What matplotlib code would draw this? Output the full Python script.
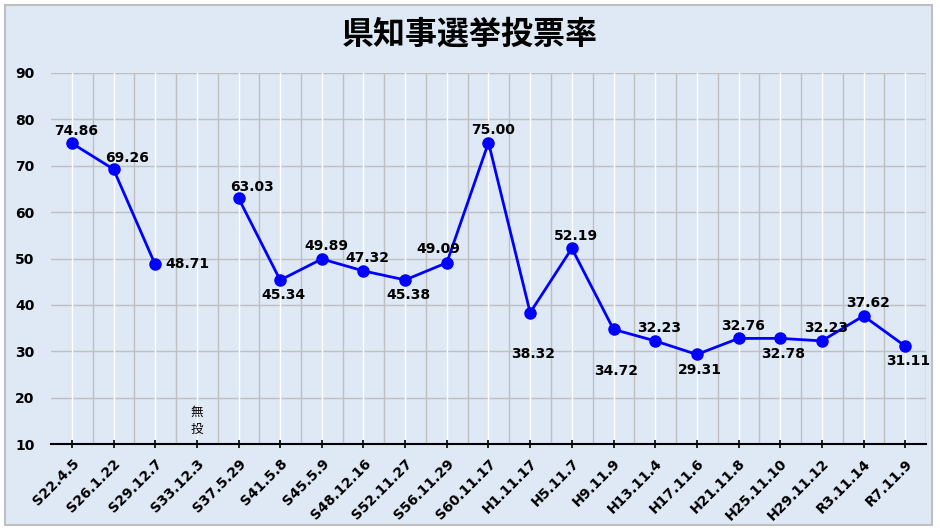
import matplotlib
matplotlib.use("Agg")
import matplotlib.pyplot as plt
import numpy as np
from matplotlib.patches import Rectangle

plt.rcParams['font.family'] = ['DejaVu Sans', 'Noto Sans CJK JP']

categories = ["S22.4.5", "S26.1.22", "S29.12.7", "S33.12.3", "S37.5.29", "S41.5.8",
              "S45.5.9", "S48.12.16", "S52.11.27", "S56.11.29", "S60.11.17", "H1.11.17",
              "H5.11.7", "H9.11.9", "H13.11.4", "H17.11.6", "H21.11.8", "H25.11.10",
              "H29.11.12", "R3.11.14", "R7.11.9"]
turnout = [74.86, 69.26, 48.71, None, 63.03, 45.34, 49.89, 47.32, 45.38, 49.09, 75.00,
           38.32, 52.19, 34.72, 32.23, 29.31, 32.76, 32.78, 32.23, 37.62, 31.11]
# label placement: 'a' above, 'b' below, 'bb' far below, 'r' right, 'ar' above-right, 'al' above-left
label_pos = ['a', 'ar', 'r', None, 'ar', 'b', 'a', 'a', 'b', 'al', 'a',
             'bb', 'a', 'bb', 'a', 'b', 'a', 'b', 'a', 'a', 'b']
yticks = [10, 20, 30, 40, 50, 60, 70, 80, 90]
title = "県知事選挙投票率"
no_vote_text = "無\n投"

bg = '#DEE9F5'
fig = plt.figure(figsize=(9.4, 5.31), dpi=100)
fig.patch.set_facecolor('white')
fig.patches.append(Rectangle((5/940, 6/531), 927/940, 520/531, transform=fig.transFigure,
                             facecolor=bg, edgecolor='#BFBFBF', linewidth=1.5, zorder=-1))

ax = fig.add_axes([51/940, 1 - 444/531, (926-51)/940, (444-73)/531])
ax.set_facecolor(bg)
x = np.arange(len(categories))
y = np.array([np.nan if v is None else v for v in turnout], dtype=float)

ax.set_xlim(-0.5, len(categories) - 0.5)
ax.set_ylim(10, 90)

# grid
for yy in yticks[1:]:
    ax.axhline(yy, color='#BFBFBF', lw=1.0, zorder=1)
for xx in x:
    ax.axvline(xx, color='white', lw=1.0, zorder=1)
for xx in x[:-1] + 0.5:
    ax.axvline(xx, color='#BFBFBF', lw=1.0, zorder=1)
ax.axvline(len(categories) - 0.5, color='#BFBFBF', lw=1.0, zorder=1)

ax.plot(x, y, color='#0000FF', lw=2, marker='o', markersize=8, zorder=3)

offsets = {'a': (3, 4, 'center', 'bottom'), 'b': (2, -6, 'center', 'top'),
           'bb': (2, -25, 'center', 'top'),
           'r': (7, 0, 'left', 'center'), 'ar': (10, 3, 'center', 'bottom'),
           'al': (-6, 5, 'center', 'bottom')}
for xi, v, p in zip(x, turnout, label_pos):
    if v is None:
        continue
    dx, dy, ha, va = offsets[p]
    ax.annotate(f"{v:.2f}", (xi, v), xytext=(dx, dy), textcoords='offset points',
                ha=ha, va=va, fontsize=10, fontweight='bold', color='black', zorder=4)

ax.text(3, 15, no_vote_text, ha='center', va='center', fontsize=9,
        family=['Noto Sans CJK JP', 'DejaVu Sans'], linespacing=1.4, zorder=4)

for s in ['top', 'right', 'left']:
    ax.spines[s].set_visible(False)
ax.spines['bottom'].set_color('black')
ax.spines['bottom'].set_linewidth(1.5)
ax.set_xticks(x)
ax.set_xticklabels(categories, rotation=45, ha='right', rotation_mode='anchor',
                   fontsize=10, fontweight='bold')
ax.tick_params(axis='x', length=6, width=1.2, direction='inout', pad=6)
ax.set_yticks(yticks)
ax.set_yticklabels([str(t) for t in yticks], fontsize=10, fontweight='bold')
ax.tick_params(axis='y', length=0, pad=12)

fig.text(0.5, 1 - 35/531, title, ha='center', va='center', fontsize=23, fontweight='bold',
         family=['Noto Sans CJK JP', 'DejaVu Sans'])

fig.savefig('out.png', dpi=100, facecolor='white')
